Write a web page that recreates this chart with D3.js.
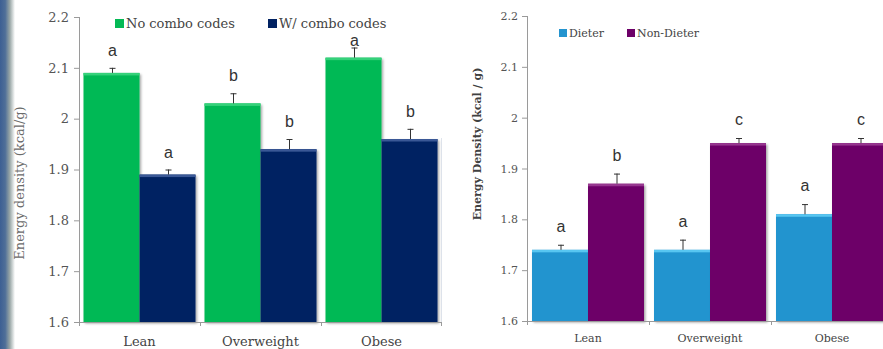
<!DOCTYPE html>
<html><head><meta charset="utf-8">
<script src="https://cdn.jsdelivr.net/npm/d3@7"></script>
<style>body{margin:0;background:#fff}svg{display:block}</style>
</head><body>
<svg id="c" width="883" height="349"></svg>
<script>
// ---- data ----
const categories = ["Lean", "Overweight", "Obese"];
const yTicks = [1.6, 1.7, 1.8, 1.9, 2, 2.1, 2.2];

const leftSeries = ["No combo codes", "W/ combo codes"];
const noComboValues = [2.09, 2.03, 2.12];
const noComboErr    = [0.01, 0.02, 0.02];
const noComboLetters = ["a", "b", "a"];
const comboValues   = [1.89, 1.94, 1.96];
const comboErr      = [0.01, 0.02, 0.02];
const comboLetters  = ["a", "b", "b"];

const rightSeries = ["Dieter", "Non-Dieter"];
const dieterValues  = [1.74, 1.74, 1.81];
const dieterErr     = [0.01, 0.02, 0.02];
const dieterLetters = ["a", "a", "a"];
const nonDieterValues  = [1.87, 1.95, 1.95];
const nonDieterErr     = [0.02, 0.01, 0.01];
const nonDieterLetters = ["b", "c", "c"];

const svg = d3.select("#c");
const defs = svg.append("defs");

// left decorative band
const lg = defs.append("linearGradient").attr("id","edge").attr("x1","0").attr("x2","1");
lg.append("stop").attr("offset","0").attr("stop-color","#3c5f93");
lg.append("stop").attr("offset","0.35").attr("stop-color","#4f6f98");
lg.append("stop").attr("offset","0.65").attr("stop-color","#98a6a6");
lg.append("stop").attr("offset","1").attr("stop-color","#ffffff");
svg.append("rect").attr("x",0).attr("y",0).attr("width",15).attr("height",349).attr("fill","url(#edge)");

const f = defs.append("filter").attr("id","sh").attr("x","-10%").attr("y","-10%").attr("width","130%").attr("height","130%");
f.append("feDropShadow").attr("dx",1.5).attr("dy",1.5).attr("stdDeviation",1.2).attr("flood-color","#000").attr("flood-opacity",0.35);

// faint frame line of right chart
svg.append("line").attr("x1",441.5).attr("x2",441.5).attr("y1",138).attr("y2",326)
  .attr("stroke","#dfe4ec").attr("stroke-width",1);

function chart(o) {
  const g = svg.append("g");
  const y = d3.scaleLinear().domain([1.6, 2.2]).range(o.yRange);
  const x = d3.scaleBand().domain(categories).range(o.xRange);
  const xs = d3.scaleBand().domain([0,1]).range([o.inset, x.bandwidth() - o.inset]);

  // axes
  const ya = g.append("g").attr("transform", `translate(${o.xRange[0]},0)`)
    .call(d3.axisLeft(y).tickValues(yTicks).tickSize(o.tick).tickPadding(o.tickPad).tickFormat(d3.format("")));
  ya.select(".domain").attr("stroke","#9a9a9a").attr("d", `M0.5,${o.yRange[1]}V${o.yRange[0]}`);
  ya.selectAll(".tick line").attr("stroke","#9a9a9a");
  ya.selectAll(".tick text").attr("font-family","DejaVu Serif").attr("font-size",o.tickFont).attr("fill","#555");

  // bars
  o.series.forEach((s, si) => {
    categories.forEach((c, i) => {
      const bx = x(c) + xs(si), bw = xs.bandwidth();
      const top = y(s.values[i]);
      g.append("rect").attr("x", bx).attr("y", top).attr("width", bw)
        .attr("height", y(1.6) - top).attr("fill", s.fill).attr("filter","url(#sh)");
      g.append("rect").attr("x", bx).attr("y", top).attr("width", bw).attr("height", 2.5)
        .attr("fill", s.hi);
      const ex = bx + bw/2 + 1, et = y(s.values[i] + s.err[i]);
      g.append("line").attr("x1", ex).attr("x2", ex).attr("y1", top).attr("y2", et).attr("stroke","#333").attr("stroke-width",1);
      g.append("line").attr("x1", ex-3).attr("x2", ex+3).attr("y1", et+0.5).attr("y2", et+0.5).attr("stroke","#333").attr("stroke-width",1);
      g.append("text").attr("x", ex).attr("y", Math.max(et - o.letterGap, o.letterMin))
        .attr("text-anchor","middle").attr("font-family","Liberation Sans").attr("font-size",o.letterFont)
        .attr("fill","#333").text(s.letters[i]);
    });
  });

  // x axis
  const xa = g.append("g").attr("transform", `translate(0,${o.yRange[0]})`);
  xa.append("line").attr("x1", o.xRange[0]).attr("x2", o.xRange[1]).attr("y1",0.5).attr("y2",0.5).attr("stroke","#9a9a9a");
  categories.forEach((c, i) => {
    xa.append("line").attr("x1", x(c)+0.5).attr("x2", x(c)+0.5).attr("y1",0).attr("y2",4).attr("stroke","#9a9a9a");
    xa.append("text").attr("x", x(c) + x.bandwidth()/2).attr("y", o.catDy).attr("text-anchor","middle")
      .attr("font-family","DejaVu Serif").attr("font-size",o.catFont).attr("fill","#444").text(c);
  });
  xa.append("line").attr("x1", o.xRange[1]-0.5).attr("x2", o.xRange[1]-0.5).attr("y1",0).attr("y2",4).attr("stroke","#9a9a9a");

  // y title
  g.append("text").attr("transform", `translate(${o.titleX},${o.titleY}) rotate(-90)`).attr("text-anchor","middle")
    .attr("font-family","DejaVu Serif").attr("font-size",o.titleFont).attr("font-weight",o.titleWeight)
    .attr("fill",o.titleColor).text(o.title);

  // legend
  o.series.forEach((s, si) => {
    const lx = o.legend[si];
    g.append("rect").attr("x", lx).attr("y", o.legendY - o.legendBox).attr("width", o.legendBox).attr("height", o.legendBox)
      .attr("fill", s.fill);
    g.append("text").attr("x", lx + o.legendBox + 2).attr("y", o.legendY).attr("font-family","DejaVu Serif")
      .attr("font-size", o.legendFont).attr("fill","#444").text(s.name);
  });
}

chart({
  xRange: [79, 442], yRange: [322, 17], inset: 4.5, tick: 5, tickPad: 5, tickFont: 13,
  catDy: 24, catFont: 13, letterGap: 12, letterMin: 46, letterFont: 16,
  title: "Energy density (kcal/g)", titleX: 24, titleY: 183, titleFont: 13, titleWeight: "normal", titleColor: "#6a6a6a",
  legend: [115, 268], legendY: 28, legendBox: 9, legendFont: 13,
  series: [
    {name: leftSeries[0], values: noComboValues, err: noComboErr, letters: noComboLetters, fill: "#04b955", hi: "#35d17a"},
    {name: leftSeries[1], values: comboValues, err: comboErr, letters: comboLetters, fill: "#012262", hi: "#3a5896"}
  ]
});

chart({
  xRange: [527, 893], yRange: [321, 16], inset: 5, tick: 5, tickPad: 4, tickFont: 11,
  catDy: 21, catFont: 11, letterGap: 13, letterMin: 0, letterFont: 16,
  title: "Energy Density (kcal / g)", titleX: 481, titleY: 144, titleFont: 11, titleWeight: "bold", titleColor: "#404040",
  legend: [559, 627], legendY: 37, legendBox: 8, legendFont: 11,
  series: [
    {name: rightSeries[0], values: dieterValues, err: dieterErr, letters: dieterLetters, fill: "#2494cf", hi: "#58c6f1"},
    {name: rightSeries[1], values: nonDieterValues, err: nonDieterErr, letters: nonDieterLetters, fill: "#6d0068", hi: "#96368f"}
  ]
});
</script>
</body></html>
